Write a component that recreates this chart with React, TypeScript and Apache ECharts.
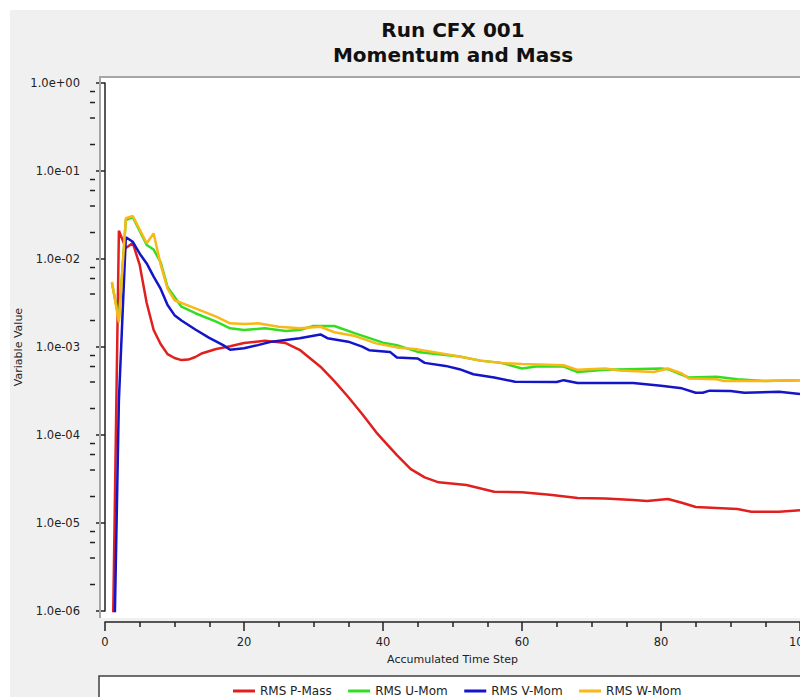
import React, { useEffect, useRef } from "react";
import * as echarts from "echarts";

// ---- Data ----
const seriesNames = ["RMS P-Mass", "RMS U-Mom", "RMS V-Mom", "RMS W-Mom"];
const seriesColors = ["#e0201e", "#33dd22", "#1414c8", "#f8b818"];

const pMassSteps = [1, 2, 3, 4, 5, 6, 7, 8, 9, 10, 11, 12, 13, 14, 16, 18, 20, 23, 26, 28, 31, 33, 35, 37, 39, 40, 42, 44, 46, 48, 52, 56, 60, 64, 68, 72, 76, 78, 81, 83, 85, 88, 91, 93, 97, 100];
const pMassValues = [1e-7, 0.0209, 0.0133, 0.0152, 0.0085, 0.00316, 0.00156, 0.00108, 0.00083, 0.00075, 0.00071, 0.00072, 0.00077, 0.00085, 0.00095, 0.00102, 0.00111, 0.00118, 0.00111, 0.00093, 0.000597, 0.00041, 0.00027, 0.000173, 0.000108, 0.000088, 0.000059, 0.000041, 0.000033, 0.000029, 0.000027, 0.0000227, 0.0000224, 0.000021, 0.0000192, 0.000019, 0.0000182, 0.0000178, 0.0000187, 0.000017, 0.0000152, 0.0000148, 0.0000144, 0.0000134, 0.0000134, 0.000014];

const uMomSteps = [1, 2, 3, 4, 6, 7, 8, 9, 11, 13, 16, 18, 20, 23, 26, 28, 30, 33, 36, 40, 42, 45, 51, 54, 57, 60, 62, 66, 68, 72, 80, 81, 84, 88, 91, 95, 100];
const uMomValues = [0.0053, 0.0021, 0.0277, 0.0299, 0.0144, 0.0128, 0.0092, 0.0048, 0.00287, 0.00242, 0.00194, 0.00163, 0.00156, 0.00163, 0.00152, 0.00156, 0.00173, 0.00173, 0.00143, 0.00112, 0.00105, 0.00088, 0.00078, 0.0007, 0.00066, 0.00057, 0.0006, 0.0006, 0.00052, 0.00055, 0.00057, 0.00056, 0.00045, 0.00046, 0.00043, 0.00041, 0.00042];

const vMomSteps = [1, 2, 3, 4, 5, 6, 7, 8, 9, 10, 11, 13, 15, 17, 18, 20, 22, 24, 28, 31, 32, 35, 37, 38, 41, 42, 45, 46, 49, 51, 53, 56, 59, 65, 66, 68, 71, 76, 80, 83, 85, 86, 87, 90, 92, 97, 100];
const vMomValues = [1.6e-8, 2.5e-4, 0.0177, 0.0157, 0.0115, 0.0089, 0.0063, 0.0046, 0.003, 0.0023, 0.002, 0.00158, 0.00127, 0.00105, 0.00093, 0.00097, 0.00105, 0.00115, 0.00126, 0.00139, 0.00126, 0.00115, 0.00101, 0.00092, 0.00088, 0.00076, 0.00074, 0.00066, 0.00061, 0.00056, 0.00049, 0.00045, 0.000403, 0.0004, 0.00042, 0.00039, 0.00039, 0.00039, 0.000363, 0.000339, 0.000302, 0.000302, 0.000319, 0.000316, 0.000302, 0.00031, 0.000292];

const wMomSteps = [1, 2, 3, 4, 6, 7, 8, 9, 10, 13, 16, 18, 20, 22, 25, 28, 31, 33, 36, 39, 42, 45, 51, 54, 57, 60, 66, 68, 72, 74, 79, 81, 83, 84, 88, 89, 94, 100];
const wMomValues = [0.0055, 0.0019, 0.029, 0.0308, 0.0151, 0.0195, 0.0087, 0.0046, 0.0034, 0.00275, 0.00221, 0.00186, 0.00182, 0.00186, 0.0017, 0.00163, 0.0017, 0.00147, 0.00133, 0.0011, 0.00099, 0.00094, 0.00078, 0.0007, 0.00066, 0.00064, 0.00062, 0.00055, 0.00057, 0.00054, 0.00052, 0.00057, 0.0005, 0.00044, 0.00043, 0.00041, 0.00041, 0.00042];

const xTickInterval = 20;
const yMinorMultipliers = [2, 4, 6, 8];
const yDecades = [-6, -5, -4, -3, -2, -1];

const titleLines = ["Run CFX 001", "Momentum and Mass"];
const xAxisName = "Accumulated Time Step";
const yAxisName = "Variable Value";

const FONT = '"DejaVu Sans", Verdana, sans-serif';

function fmtExp(v: number): string {
  const e = Math.round(Math.log10(v));
  const sign = e < 0 ? "-" : "+";
  return "1.0e" + sign + String(Math.abs(e)).padStart(2, "0");
}

const allSteps = [pMassSteps, uMomSteps, vMomSteps, wMomSteps];
const allValues = [pMassValues, uMomValues, vMomValues, wMomValues];

export default function App() {
  const ref = useRef<HTMLDivElement>(null);

  useEffect(() => {
    if (!ref.current) return;
    const chart = echarts.init(ref.current, null, { renderer: "svg" });

    const baseGraphic: any[] = [
      {
        type: "rect",
        z: 0,
        shape: { x: 89, y: 66, width: 730, height: 542 },
        style: { fill: "#ffffff" },
        silent: true,
      },
      {
        type: "polyline",
        z: 1,
        shape: { points: [[90, 608], [90, 67], [800, 67]] },
        style: { stroke: "#a6a6a6", lineWidth: 2, fill: null },
        silent: true,
      },
      {
        type: "rect",
        z: 0,
        shape: { x: 89, y: 666, width: 730, height: 40 },
        style: { fill: "#ffffff", stroke: "#404040", lineWidth: 1.5 },
        silent: true,
      },
      {
        type: "text",
        x: 443,
        y: 20,
        style: {
          text: titleLines[0],
          font: 'bold 20px ' + FONT,
          fill: "#111",
          align: "center",
          verticalAlign: "middle",
        },
      },
      {
        type: "text",
        x: 443,
        y: 45,
        style: {
          text: titleLines[1],
          font: 'bold 20px ' + FONT,
          fill: "#111",
          align: "center",
          verticalAlign: "middle",
        },
      },
    ];

    const option: any = {
      animation: false,
      backgroundColor: "#f0f0f0",
      textStyle: { fontFamily: FONT },
      grid: {
        left: 95,
        top: 73,
        width: 695,
        height: 528,
        show: false,
        containLabel: false,
        outerBoundsMode: "none",
      },
      legend: {
        data: seriesNames,
        left: 218,
        top: 670,
        icon: "rect",
        itemWidth: 22,
        itemHeight: 3,
        itemGap: 16.5,
        textStyle: { fontSize: 12, color: "#222", fontFamily: FONT },
      },
      xAxis: {
        type: "value",
        min: 0,
        max: 100,
        interval: xTickInterval,
        offset: 11,
        axisLine: { show: true, lineStyle: { color: "#222", width: 1.5 } },
        axisTick: { show: true, length: 9, lineStyle: { color: "#222", width: 1.5 } },
        minorTick: { show: true, splitNumber: 4, length: 5, lineStyle: { color: "#222", width: 1.5 } },
        splitLine: { show: false },
        axisLabel: { margin: 14, fontSize: 11.5, color: "#222", fontFamily: FONT },
        name: xAxisName,
        nameLocation: "middle",
        nameGap: 32,
        nameMoveOverlap: false,
        nameTextStyle: { fontSize: 11, color: "#222", fontFamily: FONT },
      },
      yAxis: {
        type: "log",
        logBase: 10,
        min: 1e-6,
        max: 1,
        offset: 10,
        axisLine: { show: true, lineStyle: { color: "#222", width: 1.5 } },
        axisTick: { show: true, length: 9, lineStyle: { color: "#222", width: 1.5 } },
        splitLine: { show: false },
        axisLabel: {
          margin: 15,
          fontSize: 11.5,
          color: "#222",
          fontFamily: FONT,
          formatter: (v: number) => fmtExp(v),
        },
        name: yAxisName,
        nameLocation: "middle",
        nameGap: 71,
        nameMoveOverlap: false,
        nameTextStyle: { fontSize: 11, color: "#222", fontFamily: FONT },
      },
      series: seriesNames.map((name, i) => ({
        name,
        type: "line",
        symbol: "none",
        showSymbol: false,
        clip: true,
        z: 3,
        color: seriesColors[i],
        lineStyle: { color: seriesColors[i], width: 2.5 },
        data: allSteps[i].map((t, j) => [t, allValues[i][j]]),
      })),
      graphic: baseGraphic,
    };

    chart.setOption(option);

    // minor log ticks on the y axis, positioned through the axis scale
    const axisX = 85;
    const minor: any[] = [];
    yDecades.forEach((d) => {
      yMinorMultipliers.forEach((m) => {
        const y = chart.convertToPixel({ yAxisIndex: 0 }, m * Math.pow(10, d)) as number;
        if (typeof y === "number" && isFinite(y)) {
          minor.push({
            type: "line",
            z: 5,
            silent: true,
            shape: { x1: axisX - 5, y1: y, x2: axisX, y2: y },
            style: { stroke: "#222", lineWidth: 1.5 },
          });
        }
      });
    });
    chart.setOption({ graphic: [...baseGraphic, ...minor] });

    return () => {
      chart.dispose();
    };
  }, []);

  return (
    <div
      ref={ref}
      style={{ position: "absolute", left: 10, top: 10, width: 790, height: 687 }}
    />
  );
}
